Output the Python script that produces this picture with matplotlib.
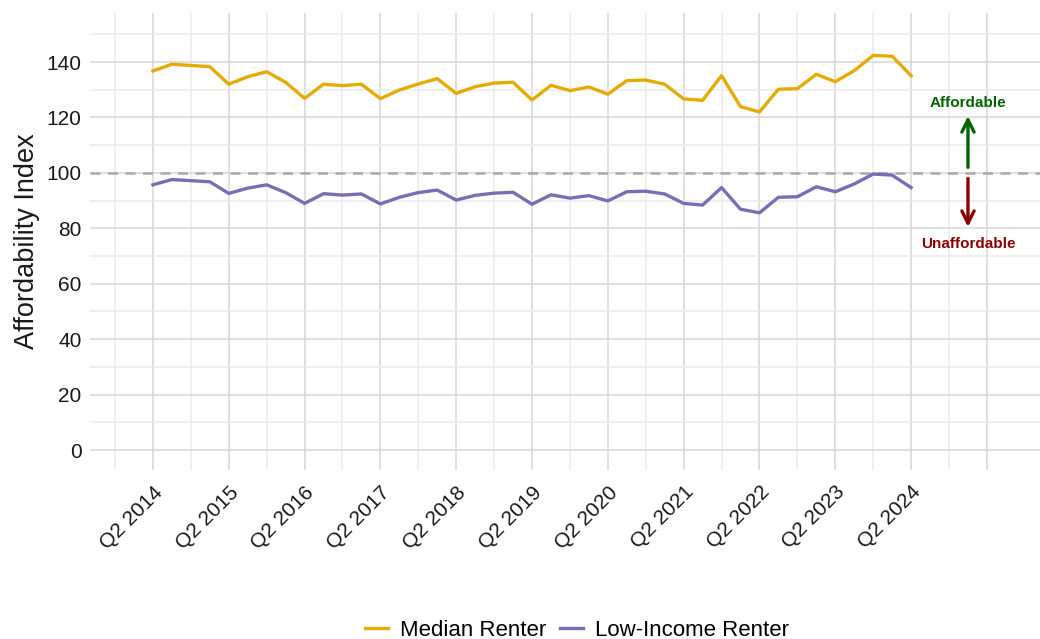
import numpy as np
import matplotlib
matplotlib.use("Agg")
import matplotlib.pyplot as plt
from matplotlib.ticker import FixedLocator

plt.rcParams['font.family'] = ['Liberation Sans', 'DejaVu Sans']

# quarterly index, Q2 2014 .. Q2 2024
quarters = [f"Q{(q % 4) + 1} {2014 + (q + 1) // 4}" for q in range(1, 42)]
median_renter = [136.8, 139.2, 138.8, 138.3, 132.0, 134.7, 136.5, 132.7, 126.9, 132.0,
                 131.5, 132.0, 126.8, 129.9, 132.1, 134.0, 128.7, 131.1, 132.4, 132.7,
                 126.3, 131.6, 129.7, 131.0, 128.4, 133.3, 133.5, 132.0, 126.7, 126.2,
                 135.1, 123.9, 122.0, 130.2, 130.4, 135.6, 132.9, 136.9, 142.4, 142.1,
                 135.1]
low_income_renter = [95.7, 97.6, 97.2, 96.8, 92.6, 94.5, 95.7, 92.9, 89.0, 92.5,
                     92.0, 92.4, 88.8, 91.2, 92.9, 93.8, 90.2, 91.9, 92.7, 93.0,
                     88.7, 92.1, 90.9, 91.8, 89.9, 93.2, 93.4, 92.4, 89.0, 88.4,
                     94.7, 86.9, 85.6, 91.2, 91.4, 95.0, 93.2, 96.0, 99.6, 99.2,
                     94.7]
year_labels = [f"Q2 {y}" for y in range(2014, 2025)]

gold = "#E6AB02"
purple = "#7570B3"

x = np.arange(len(quarters))

fig = plt.figure(figsize=(10.4, 6.39), dpi=100)
ax = fig.add_axes([90 / 1040, 1 - 470 / 639, 950 / 1040, 457 / 639])

ax.plot(x, median_renter, color=gold, lw=2.4, label="Median Renter", zorder=3)
ax.plot(x, low_income_renter, color=purple, lw=2.4, label="Low-Income Renter", zorder=3)
ax.axhline(100, color="#A9A9A9", lw=1.8, ls=(0, (4, 3)), zorder=2)

# affordability arrows
ax.annotate("", xy=(43, 121.5), xytext=(43, 101),
            arrowprops=dict(arrowstyle="->", color="#006400", lw=2.4,
                            mutation_scale=22))
ax.annotate("", xy=(43, 79.5), xytext=(43, 99),
            arrowprops=dict(arrowstyle="->", color="#8B0000", lw=2.4,
                            mutation_scale=22))
ax.text(43, 122.8, "Affordable", color="#006400", fontsize=11,
        fontweight="bold", ha="center", va="bottom")
ax.text(43, 77.0, "Unaffordable", color="#8B0000", fontsize=11,
        fontweight="bold", ha="center", va="top")

ax.set_xlim(-3.32, 46.8)
ax.set_ylim(-7.2, 157.7)

major_x = np.arange(0, 45, 4)
ax.xaxis.set_major_locator(FixedLocator(major_x))
ax.xaxis.set_minor_locator(FixedLocator(np.arange(-2, 44, 4)))
ax.set_xticklabels(year_labels + [""])
ax.yaxis.set_major_locator(FixedLocator(np.arange(0, 141, 20)))
ax.yaxis.set_minor_locator(FixedLocator(np.arange(10, 151, 20)))

ax.grid(which="major", color="#D6D6D6", lw=1.1)
ax.grid(which="minor", color="#EBEBEB", lw=1.1)
ax.set_axisbelow(True)
for s in ax.spines.values():
    s.set_visible(False)
ax.tick_params(which="both", length=0)
ax.tick_params(axis="y", labelsize=15, colors="#1A1A1A", pad=6)
ax.tick_params(axis="x", labelsize=15, colors="#1A1A1A", pad=9)
for lab in ax.get_xticklabels():
    lab.set_rotation(45)
    lab.set_ha("right")
    lab.set_rotation_mode("anchor")

ax.set_ylabel("Affordability Index", fontsize=19.5, color="#1A1A1A", labelpad=5)

fig.legend(loc="center", bbox_to_anchor=(577 / 1040, 1 - 630 / 639), ncol=2,
           frameon=False, fontsize=16, handlelength=1.05, columnspacing=0.6,
           handletextpad=0.55)

fig.savefig("out.png", dpi=100)
